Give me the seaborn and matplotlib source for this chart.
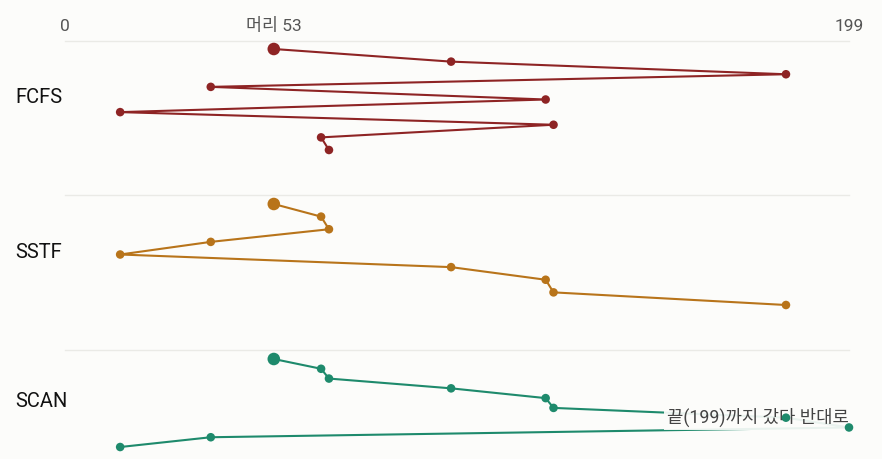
import pandas as pd
import seaborn as sns
import matplotlib.pyplot as plt

# disk requests, served order per algorithm (cylinder numbers)
max_cyl = 199
head = 53
fcfs = [53, 98, 183, 37, 122, 14, 124, 65, 67]
sstf = [53, 65, 67, 37, 14, 98, 122, 124, 183]
scan = [53, 65, 67, 98, 122, 124, 183, 199, 37, 14]
algos = ['FCFS', 'SSTF', 'SCAN']
orders = [fcfs, sstf, scan]
tick_vals = [0, head, max_cyl]
tick_labels = ['0', f'머리 {head}', str(max_cyl)]
note = f'끝({max_cyl})까지 갔다 반대로'

colors = ['#8E2424', '#B8741A', '#1E8A6C']
bg = '#FCFCFA'

sns.set_theme(style='white')
plt.rcParams['font.family'] = ['Roboto', 'Noto Sans CJK KR', 'DejaVu Sans']

W, H = 882, 459
fig = plt.figure(figsize=(W / 100, H / 100), dpi=100, facecolor=bg)

# panel boxes in pixels: (top, bottom, first-step y, px per step)
panels = [(41, 195, 49, 12.625), (195, 350, 204, 12.625), (350, 459, 359, 9.78)]
x0, x1 = 65, 849

for i, (name, order, col, (top, bot, y0, k)) in enumerate(zip(algos, orders, colors, panels)):
    ax = fig.add_axes([x0 / W, 1 - bot / H, (x1 - x0) / W, (bot - top) / H])
    ax.set_facecolor('none')
    df = pd.DataFrame({'cyl': order, 'step': range(len(order))})
    sns.lineplot(data=df, x='cyl', y='step', sort=False, color=col, lw=1.5,
                 ax=ax, clip_on=False, zorder=2)
    sns.scatterplot(data=df.iloc[1:], x='cyl', y='step', color=col, s=38,
                    edgecolor='none', ax=ax, clip_on=False, zorder=4)
    sns.scatterplot(data=df.iloc[:1], x='cyl', y='step', color=col, s=82,
                    edgecolor='none', ax=ax, clip_on=False, zorder=4)
    ax.set_xlim(0, max_cyl)
    t = -(y0 - top) / k
    ax.set_ylim(t + (bot - top) / k, t)
    ax.set_xlabel('')
    ax.set_ylabel('')
    ax.set_yticks([])
    for s in ['left', 'right', 'bottom']:
        ax.spines[s].set_visible(False)
    ax.spines['top'].set_color('#EAEAE6')
    ax.spines['top'].set_linewidth(1.0)
    if i == 0:
        ax.xaxis.tick_top()
        ax.set_xticks(tick_vals)
        ax.set_xticklabels(tick_labels)
        ax.tick_params(axis='x', length=0, pad=5, labelsize=12.5, labelcolor='#555555')
    else:
        ax.set_xticks([])
    mid = (len(order) - 1) / 2
    ax.text(-50 / 784 * max_cyl, mid - 0.15, name, ha='left', va='center',
            fontsize=14.5, color='#111111')
    if name == 'SCAN':
        ax.text(max_cyl, 6.0, note, ha='right', va='center', fontsize=12.8,
                color='#444444', zorder=3,
                bbox=dict(boxstyle='square,pad=0.15', fc=bg, ec='none', alpha=0.92))

fig.savefig('out.png', dpi=100, facecolor=bg)
